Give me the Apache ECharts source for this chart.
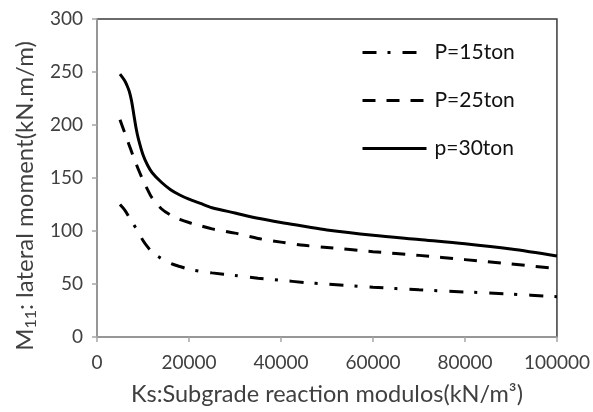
<!DOCTYPE html>
<html>
<head>
<meta charset="utf-8">
<script src="https://cdn.jsdelivr.net/npm/echarts@6/dist/echarts.min.js"></script>
<style>
html,body{margin:0;padding:0;background:#fff;}
#c{width:593px;height:412px;}
</style>
</head>
<body>
<div id="c"></div>
<script>
// Ks values (kN/m3)
var ks = [5000, 6000, 6500, 7000, 7500, 8000, 8500, 9000, 10000, 11000, 12000, 14000, 16000, 18000, 20000, 22500, 25000, 30000, 35000, 40000, 45000, 50000, 60000, 70000, 80000, 90000, 100000];
// lateral moment (kN.m/m)
var p15 = [125, 120, 116.5, 113, 110, 106, 102.5, 99, 91, 85, 80, 74, 69.5, 66.5, 64, 62, 60.5, 58, 55.5, 53.5, 51.5, 50, 47, 44.5, 42.5, 40.5, 38];
var p25 = [205, 193, 187, 181, 175, 169, 163.5, 158, 148, 139, 131, 121, 115, 111, 108, 105, 102, 98, 93, 89.5, 86.5, 84.5, 80.5, 77, 73, 69, 64.5];
var p30 = [248, 242, 237.5, 232, 223, 210, 197, 187, 172, 162, 155, 146, 139, 134, 130, 126, 122, 117, 112, 108, 104.5, 101, 96, 92, 88, 83, 76.5];
var seriesNames = ['P=15ton', 'P=25ton', 'p=30ton'];
var xTicks = [0, 20000, 40000, 60000, 80000, 100000];
var yTicks = [0, 50, 100, 150, 200, 250, 300];

function pairs(ys){ return ks.map(function(x,i){ return [x, ys[i]]; }); }

var FONT = 'Lato';
var chart = echarts.init(document.getElementById('c'), null, {renderer:'canvas'});
chart.setOption({
  animation: false,
  backgroundColor: '#fff',
  grid: { left: 97, right: 36, top: 19, bottom: 75, show: true, borderColor: '#3a3a3a', borderWidth: 1.5, backgroundColor: 'transparent' },
  legend: {
    orient: 'vertical', left: 356, top: 37, itemWidth: 64, itemHeight: 14, itemGap: 27,
    data: seriesNames,
    itemStyle: { opacity: 0 },
    lineStyle: { width: 3 },
    textStyle: { fontFamily: FONT, fontSize: 21, color: '#111', padding: [0,0,0,3] }
  },
  xAxis: {
    type: 'value', min: xTicks[0], max: xTicks[xTicks.length-1], interval: 20000,
    splitLine: { show: false },
    axisLine: { show: true, onZero: false, lineStyle: { color: '#a6a6a6', width: 1.5 } },
    axisTick: { show: true, length: 5, lineStyle: { color: '#a6a6a6', width: 1.5 } },
    axisLabel: { fontFamily: FONT, fontSize: 19, color: '#404040', margin: 16, formatter: function(v){ return String(v); } },
    name: 'Ks:Subgrade reaction modulos(kN/m³)', nameLocation: 'middle', nameGap: 45,
    nameTextStyle: { fontFamily: FONT, fontSize: 23.5, color: '#404040' }
  },
  yAxis: {
    type: 'value', min: yTicks[0], max: yTicks[yTicks.length-1], interval: 50,
    splitLine: { show: false },
    axisLine: { show: true, onZero: false, lineStyle: { color: '#a6a6a6', width: 1.5 } },
    axisTick: { show: true, length: 5, lineStyle: { color: '#a6a6a6', width: 1.5 } },
    axisLabel: { fontFamily: FONT, fontSize: 19, color: '#404040', margin: 14, formatter: function(v){ return String(v); } },
    name: '{a|M}{s|11}{a|: lateral moment(kN.m/m)}', nameLocation: 'middle', nameGap: 58,
    nameTextStyle: {
      fontFamily: FONT, fontSize: 24, color: '#404040', padding: [0, 36, 0, 0],
      rich: {
        a: { fontFamily: FONT, fontSize: 24, color: '#404040', lineHeight: 28 },
        s: { fontFamily: FONT, fontSize: 16, color: '#404040', lineHeight: 15, verticalAlign: 'bottom' }
      }
    }
  },
  series: [
    { name: seriesNames[0], type: 'line', data: pairs(p15), showSymbol: false, symbol: 'none', smooth: 0.3,
      lineStyle: { color: '#000', width: 3, type: [14, 11, 3, 12] }, itemStyle: { color: '#000' } },
    { name: seriesNames[1], type: 'line', data: pairs(p25), showSymbol: false, symbol: 'none', smooth: 0.3,
      lineStyle: { color: '#000', width: 3, type: [13, 11] }, itemStyle: { color: '#000' } },
    { name: seriesNames[2], type: 'line', data: pairs(p30), showSymbol: false, symbol: 'none', smooth: 0.3,
      lineStyle: { color: '#000', width: 3, type: 'solid' }, itemStyle: { color: '#000' } }
  ]
});
</script>
</body>
</html>
